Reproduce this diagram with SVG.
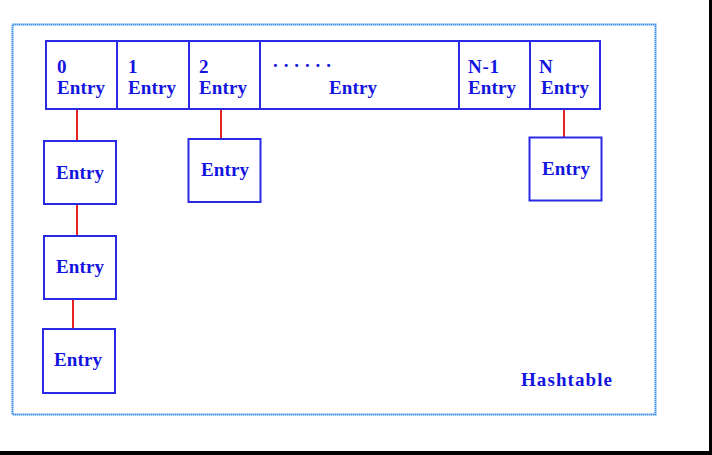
<svg xmlns="http://www.w3.org/2000/svg" width="712" height="455" viewBox="0 0 712 455">
<style>
.box{fill:#fff;stroke:#2a2ae6;stroke-width:2}
.t{font-family:"Liberation Serif","Times New Roman",serif;font-weight:bold;font-size:19px;fill:#1414e0}
.link{stroke:#e62222;stroke-width:2;fill:none}
</style>
<rect x="0" y="0" width="712" height="455" fill="#fff"/>
<rect x="709" y="0" width="3" height="455" fill="#000"/>
<rect x="0" y="451" width="712" height="4" fill="#000"/>
<rect x="12.5" y="24.5" width="643" height="390" fill="none" stroke="#3a8ee8" stroke-width="2" stroke-dasharray="1.5 0.5"/>
<g id="connectors">
<line class="link" x1="77" y1="109" x2="77" y2="141"/>
<line class="link" x1="77" y1="204" x2="77" y2="236"/>
<line class="link" x1="73" y1="299" x2="73" y2="329"/>
<line class="link" x1="221" y1="109" x2="221" y2="139"/>
<line class="link" x1="564" y1="109" x2="564" y2="137"/>
</g>
<g id="cell0"><rect class="box" x="46" y="41" width="71" height="68"/><text class="t" x="57" y="73">0</text><text class="t" x="57" y="94" textLength="48" lengthAdjust="spacing">Entry</text></g>
<g id="cell1"><rect class="box" x="117" y="41" width="72" height="68"/><text class="t" x="128" y="73">1</text><text class="t" x="128" y="94" textLength="48" lengthAdjust="spacing">Entry</text></g>
<g id="cell2"><rect class="box" x="189" y="41" width="71" height="68"/><text class="t" x="199" y="73">2</text><text class="t" x="199" y="94" textLength="48" lengthAdjust="spacing">Entry</text></g>
<g id="cellDots"><rect class="box" x="260" y="41" width="199" height="68"/><text class="t" x="273" y="67" textLength="58" lengthAdjust="spacing">......</text><text class="t" x="329" y="94" textLength="48" lengthAdjust="spacing">Entry</text></g>
<g id="cellN1"><rect class="box" x="459" y="41" width="71" height="68"/><text class="t" x="468" y="73" textLength="31" lengthAdjust="spacing">N-1</text><text class="t" x="468" y="94" textLength="48" lengthAdjust="spacing">Entry</text></g>
<g id="cellN"><rect class="box" x="530" y="41" width="70" height="68"/><text class="t" x="539" y="73">N</text><text class="t" x="541" y="94" textLength="48" lengthAdjust="spacing">Entry</text></g>
<g id="chain0a"><rect class="box" x="44" y="141" width="72" height="63"/><text class="t" x="56" y="179" textLength="48" lengthAdjust="spacing">Entry</text></g>
<g id="chain0b"><rect class="box" x="44" y="236" width="72" height="63"/><text class="t" x="56" y="273" textLength="48" lengthAdjust="spacing">Entry</text></g>
<g id="chain0c"><rect class="box" x="43" y="329" width="72" height="64"/><text class="t" x="54" y="366" textLength="48" lengthAdjust="spacing">Entry</text></g>
<g id="chain2"><rect class="box" x="188.5" y="139" width="72" height="63"/><text class="t" x="201" y="176" textLength="48" lengthAdjust="spacing">Entry</text></g>
<g id="chainN"><rect class="box" x="529.5" y="137.5" width="72" height="63"/><text class="t" x="542" y="175" textLength="48" lengthAdjust="spacing">Entry</text></g>
<g id="label"><text class="t" x="521" y="386" textLength="91" lengthAdjust="spacing">Hashtable</text></g>
</svg>
